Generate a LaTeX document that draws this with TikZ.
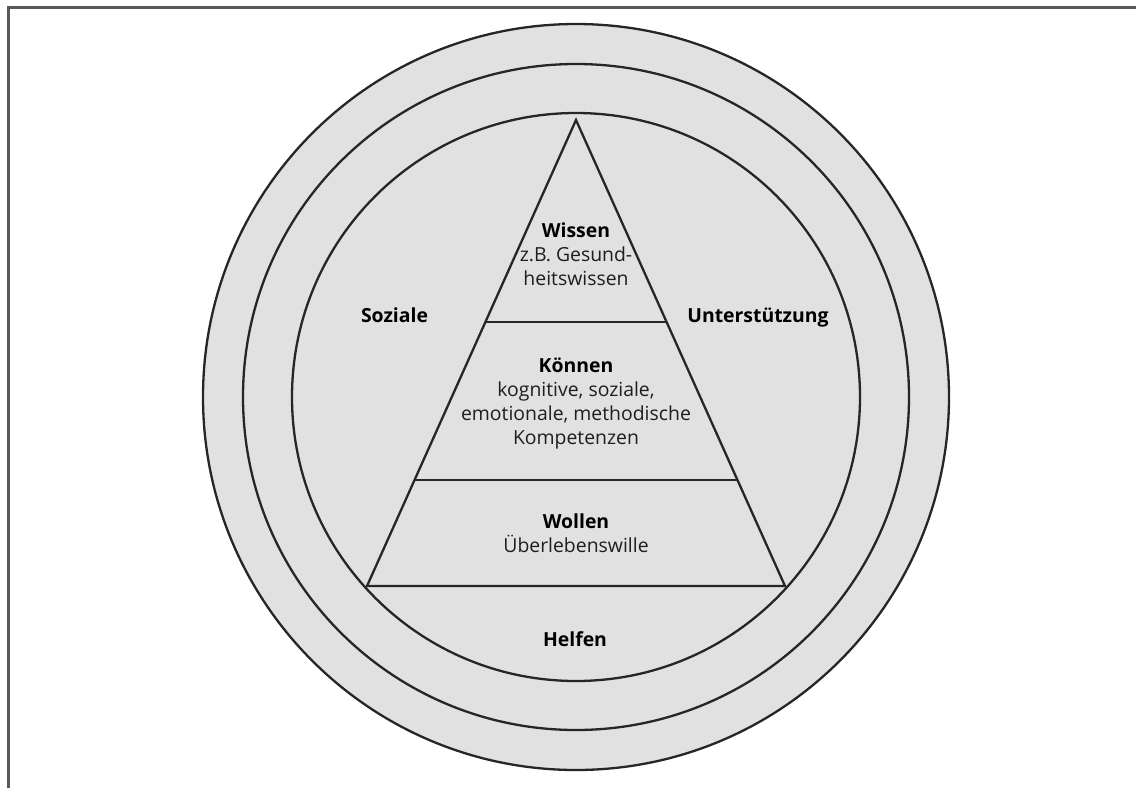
\documentclass[tikz,border=0pt]{standalone}
\usepackage{fontspec}
\setmainfont{Open Sans}
\usetikzlibrary{calc}
\definecolor{fillc}{HTML}{E1E1E1}
\definecolor{linec}{HTML}{262626}
\definecolor{framec}{HTML}{595959}
\definecolor{textc}{HTML}{1E1E1E}
\begin{document}
\begin{tikzpicture}[x=1pt,y=-1pt,
  ring/.style={draw=linec, line width=2.3pt, fill=fillc},
  layer/.style={draw=linec, line width=2.3pt},
  lbl/.style={font=\fontsize{19.4}{24}\selectfont, text=textc, inner sep=0pt, align=center, anchor=base},
  head/.style={font=\fontsize{19.4}{24}\selectfont\bfseries, text=black, inner sep=0pt, anchor=base}]
\useasboundingbox (0,0) rectangle (1136,788);
\fill[white] (0,0) rectangle (1136,788);
\draw[framec, line width=3pt] (8,788) -- (8,7) -- (1136,7);
% rings
\coordinate (c) at (576,397);
\draw[ring] (c) circle[radius=373];
\draw[ring] (c) circle[radius=333];
\draw[ring] (c) circle[radius=284];
% pyramid
\coordinate (apex) at (576,120);
\coordinate (bl) at (367,586);
\coordinate (br) at (785,586);
\draw[ring, line join=miter] (apex) -- (br) -- (bl) -- cycle;
\coordinate (d1l) at ($(apex)!0.4335!(bl)$);
\coordinate (d1r) at ($(apex)!0.4335!(br)$);
\coordinate (d2l) at ($(apex)!0.7725!(bl)$);
\coordinate (d2r) at ($(apex)!0.7725!(br)$);
\draw[layer] (d1l) -- (d1r);
\draw[layer] (d2l) -- (d2r);
% texts
\node[head] (wissen) at (576,237) {Wissen};
\node[lbl] (wissent) at (576,285) {z.B. Gesund-\\heitswissen};
\node[head] (koennen) at (576,372) {Können};
\node[lbl] (koennent) at (576,444) {kognitive, soziale,\\emotionale, methodische\\Kompetenzen};
\node[head] (wollen) at (576,528) {Wollen};
\node[lbl] (wollent) at (576,552) {Überlebenswille};
\node[head] (soziale) at (394.5,322) {Soziale};
\node[head] (unterst) at (758,322) {Unterstützung};
\node[head] (helfen) at (575,646) {Helfen};
\end{tikzpicture}
\end{document}
